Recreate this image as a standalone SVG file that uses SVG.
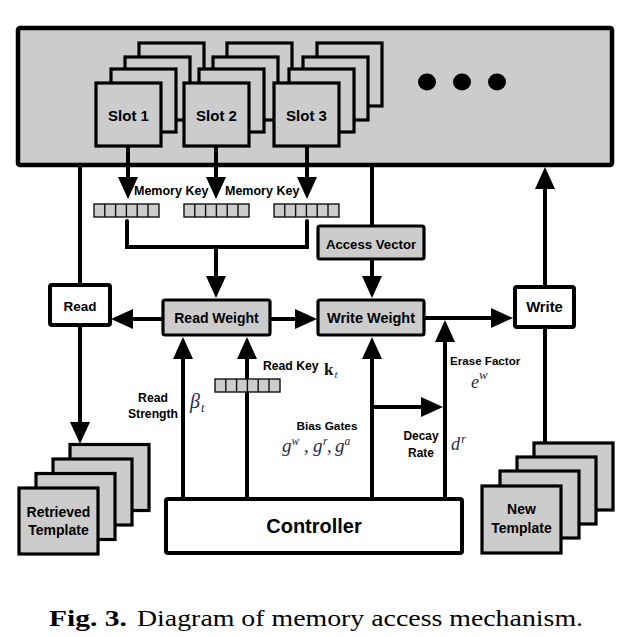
<svg xmlns="http://www.w3.org/2000/svg" width="635" height="637" viewBox="0 0 635 637">
<style>
.bg{fill:#ffffff}
.gray{fill:#cccccc;stroke:#000;stroke-width:3.2}
.box{stroke:#000;stroke-width:4;stroke-linejoin:round}
.white{fill:#ffffff}
.cell{fill:#cccccc;stroke:#111;stroke-width:1.4}
.ln{fill:none;stroke:#000;stroke-width:4}
.arr{fill:none;stroke:#000;stroke-width:4;marker-end:url(#ah)}
.lbl{font-family:"Liberation Sans",Arial,sans-serif;font-weight:bold;fill:#000}
.math{font-family:"Liberation Serif","Times New Roman",serif;font-style:italic;fill:#1f2a4d}
.mb{font-family:"Liberation Serif","Times New Roman",serif;font-weight:bold;fill:#111}
.cap{font-family:"Liberation Serif","Times New Roman",serif;fill:#000;font-size:23px}
</style>
<defs>
<marker id="ah" markerUnits="userSpaceOnUse" markerWidth="22" markerHeight="20" viewBox="0 0 22 20" refX="12" refY="10" orient="auto">
<path d="M0,0 L22,10 L0,20 z" fill="#000"/>
</marker>
<g id="layer"><rect width="65" height="63" class="gray"/></g>
<g id="bar">
<rect x="0" y="0" width="65" height="13" class="cell"/>
<path d="M10.8,0V13M21.6,0V13M32.4,0V13M43.2,0V13M54,0V13" stroke="#111" stroke-width="1.4"/>
</g>
</defs>
<rect class="bg" x="0" y="0" width="635" height="637"/>

<g id="memory">
<rect x="18" y="28" width="594" height="137" fill="#cccccc" stroke="#000" stroke-width="4.5" rx="2"/>
<ellipse cx="427" cy="82" rx="9" ry="8.5" fill="#000"/>
<ellipse cx="462" cy="82" rx="9" ry="8.5" fill="#000"/>
<ellipse cx="497" cy="82" rx="9" ry="8.5" fill="#000"/>
</g>

<g id="slot1">
<use href="#layer" x="139" y="43"/>
<use href="#layer" x="125" y="57"/>
<use href="#layer" x="111" y="69"/>
<use href="#layer" x="96" y="83"/>
<text class="lbl" x="128.5" y="121" font-size="15" text-anchor="middle">Slot 1</text>
</g>
<g id="slot2">
<use href="#layer" x="227" y="43"/>
<use href="#layer" x="213" y="57"/>
<use href="#layer" x="199" y="69"/>
<use href="#layer" x="184" y="83"/>
<text class="lbl" x="216.5" y="121" font-size="15" text-anchor="middle">Slot 2</text>
</g>
<g id="slot3">
<use href="#layer" x="317" y="43"/>
<use href="#layer" x="303" y="57"/>
<use href="#layer" x="289" y="69"/>
<use href="#layer" x="274" y="83"/>
<text class="lbl" x="306.5" y="121" font-size="15" text-anchor="middle">Slot 3</text>
</g>

<g id="connectors">
<line class="arr" x1="128" y1="146" x2="128" y2="189"/>
<line class="arr" x1="216" y1="146" x2="216" y2="189"/>
<line class="arr" x1="307" y1="146" x2="307" y2="189"/>
<path class="ln" d="M127,221 V247 H307 V221" stroke-linecap="round"/>
<line class="arr" x1="216" y1="247" x2="216" y2="288"/>
<line class="ln" x1="372" y1="165" x2="372" y2="226"/>
<line class="arr" x1="372" y1="259" x2="372" y2="288"/>
<line class="ln" x1="80" y1="165" x2="80" y2="285"/>
<line class="arr" x1="80" y1="325" x2="80" y2="434"/>
<line class="arr" x1="163" y1="319" x2="121" y2="319"/>
<line class="arr" x1="270" y1="319" x2="307" y2="319"/>
<line class="arr" x1="424" y1="318" x2="503" y2="318"/>
<line class="arr" x1="545" y1="286" x2="545" y2="177"/>
<line class="ln" x1="545" y1="327" x2="545" y2="444"/>
<line class="arr" x1="183" y1="499" x2="183" y2="347"/>
<line class="arr" x1="247" y1="499" x2="247" y2="347"/>
<line class="arr" x1="372" y1="499" x2="372" y2="347"/>
<line class="arr" x1="372" y1="407" x2="433" y2="407"/>
<line class="arr" x1="445" y1="499" x2="445" y2="330"/>
</g>

<g id="memkey1"><use href="#bar" x="94" y="204"/></g>
<g id="memkey2"><use href="#bar" x="184" y="204"/></g>
<g id="memkey3"><use href="#bar" x="274" y="204"/></g>
<g id="readkeybar"><use href="#bar" x="215" y="379"/></g>

<g id="labels">
<text class="lbl" x="134" y="195" font-size="12.5">Memory Key</text>
<text class="lbl" x="225" y="195" font-size="12.5">Memory Key</text>
<text class="lbl" x="263" y="370" font-size="12.2">Read Key</text>
<text class="mb" x="324" y="375" font-size="17">k</text>
<text class="math" x="334.5" y="378" font-size="11">t</text>
<text class="lbl" x="153" y="402" font-size="12.2" text-anchor="middle">Read</text>
<text class="lbl" x="153" y="418" font-size="12.2" text-anchor="middle">Strength</text>
<text class="math" x="190" y="408" font-size="20">β</text>
<text class="math" x="201" y="412" font-size="12">t</text>
<text class="lbl" x="327" y="430" font-size="11.8" text-anchor="middle">Bias Gates</text>
<text class="math" font-size="19" y="452"><tspan x="282">g</tspan><tspan x="304" font-style="normal">,</tspan><tspan x="313">g</tspan><tspan x="327" font-style="normal">,</tspan><tspan x="335">g</tspan></text>
<text class="math" font-size="11.5" y="444.5"><tspan x="291.5">w</tspan><tspan x="323">r</tspan><tspan x="344.5">a</tspan></text>
<text class="lbl" x="421" y="440" font-size="11.9" text-anchor="middle">Decay</text>
<text class="lbl" x="421" y="457" font-size="11.9" text-anchor="middle">Rate</text>
<text class="math" x="451" y="450" font-size="18">d</text>
<text class="math" x="461" y="443" font-size="13">r</text>
<text class="lbl" x="450" y="365" font-size="11.6">Erase Factor</text>
<text class="math" x="471" y="388" font-size="18">e</text>
<text class="math" x="479" y="379" font-size="13">w</text>
</g>

<g id="accessvector">
<rect x="318" y="226" width="106" height="33" rx="2" class="gray"/>
<text class="lbl" x="371" y="249" font-size="13.2" text-anchor="middle">Access Vector</text>
</g>
<g id="readweight">
<rect x="163" y="300" width="107" height="35" rx="2" class="gray"/>
<text class="lbl" x="216.5" y="323" font-size="14" text-anchor="middle">Read Weight</text>
</g>
<g id="writeweight">
<rect x="318" y="300" width="106" height="35" rx="2" class="gray"/>
<text class="lbl" x="371" y="323" font-size="14.5" text-anchor="middle">Write Weight</text>
</g>
<g id="read">
<rect x="50" y="285" width="60" height="40" rx="2" class="box white"/>
<text class="lbl" x="80" y="311" font-size="13.5" text-anchor="middle">Read</text>
</g>
<g id="write">
<rect x="515" y="287" width="59" height="40" rx="2" class="box white"/>
<text class="lbl" x="544.5" y="312" font-size="14.8" text-anchor="middle">Write</text>
</g>
<g id="controller">
<rect x="166" y="499" width="296" height="54" rx="2" class="box white" stroke-width="4.5"/>
<text class="lbl" x="314" y="533" font-size="20" text-anchor="middle">Controller</text>
</g>
<g id="retrieved">
<rect x="70" y="444.5" width="79" height="66" class="gray" stroke-width="3.5"/>
<rect x="53" y="459" width="79" height="66" class="gray" stroke-width="3.5"/>
<rect x="36" y="473.5" width="79" height="66" class="gray" stroke-width="3.5"/>
<rect x="19" y="488" width="79" height="66" class="gray" stroke-width="3.5"/>
<text class="lbl" x="58.5" y="517" font-size="14" text-anchor="middle">Retrieved</text>
<text class="lbl" x="58.5" y="535" font-size="14" text-anchor="middle">Template</text>
</g>
<g id="newtemplate">
<rect x="534" y="443" width="79" height="67" class="gray" stroke-width="3.5"/>
<rect x="517" y="457" width="79" height="67" class="gray" stroke-width="3.5"/>
<rect x="500" y="471" width="79" height="67" class="gray" stroke-width="3.5"/>
<rect x="482" y="486" width="79" height="67" class="gray" stroke-width="3.5"/>
<text class="lbl" x="521.5" y="514" font-size="14" text-anchor="middle">New</text>
<text class="lbl" x="521.5" y="533" font-size="14" text-anchor="middle">Template</text>
</g>

<g id="caption">
<text class="cap" x="49" y="626" font-weight="bold" textLength="78" lengthAdjust="spacingAndGlyphs">Fig. 3.</text>
<text class="cap" x="137" y="626" textLength="446" lengthAdjust="spacingAndGlyphs">Diagram of memory access mechanism.</text>
</g>
</svg>
